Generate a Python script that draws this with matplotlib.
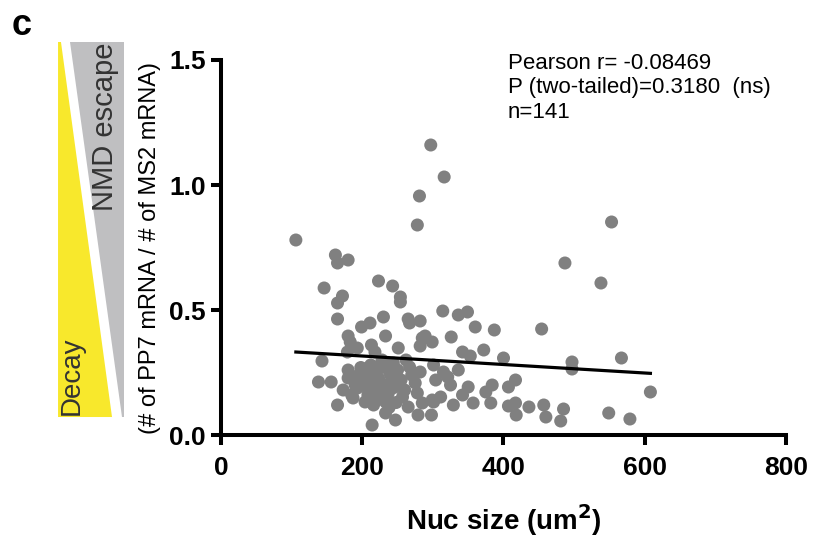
import numpy as np
import matplotlib
matplotlib.use("Agg")
import matplotlib.pyplot as plt
from matplotlib.patches import Polygon

plt.rcParams['font.family'] = ['Liberation Sans', 'DejaVu Sans']

# nuclear size (um^2) and PP7/MS2 ratio
nuc_size = [
    146, 172, 165, 223, 243, 254, 254, 165, 199, 211,
    230, 265, 267, 282, 314, 336, 349, 360, 387, 454,
    180, 183, 233, 285, 289, 299, 282, 326, 251, 213,
    193, 179, 218, 342, 353, 372, 400, 497, 497, 143,
    204, 217, 244, 267, 282, 301, 315, 336, 138, 156,
    180, 201, 214, 223, 243, 275, 304, 321, 325, 350,
    384, 417, 407, 173, 193, 209, 228, 237, 257, 278,
    299, 311, 342, 375, 165, 187, 204, 216, 233, 265,
    285, 301, 329, 357, 382, 407, 417, 436, 457, 485,
    233, 279, 298, 418, 460, 247, 481, 214, 297, 316,
    281, 278, 553, 106, 162, 165, 180, 487, 538, 608,
    549, 579, 567,
    200, 210, 220, 230, 240, 225, 215, 205, 195, 235,
    245, 250, 228, 212, 190, 185, 255, 260, 218, 238,
    248, 208, 198, 232, 222, 270, 262, 180,
]
ratio = [
    0.588, 0.556, 0.528, 0.616, 0.596, 0.552, 0.532, 0.464, 0.432, 0.448,
    0.472, 0.464, 0.448, 0.456, 0.496, 0.480, 0.492, 0.432, 0.420, 0.424,
    0.396, 0.372, 0.396, 0.388, 0.396, 0.372, 0.356, 0.392, 0.348, 0.360,
    0.348, 0.332, 0.332, 0.332, 0.316, 0.340, 0.308, 0.292, 0.264, 0.296,
    0.264, 0.272, 0.288, 0.272, 0.252, 0.280, 0.252, 0.260, 0.212, 0.212,
    0.228, 0.232, 0.248, 0.228, 0.224, 0.208, 0.220, 0.232, 0.200, 0.192,
    0.200, 0.220, 0.192, 0.180, 0.188, 0.180, 0.184, 0.168, 0.152, 0.168,
    0.140, 0.152, 0.160, 0.172, 0.120, 0.148, 0.132, 0.120, 0.132, 0.112,
    0.128, 0.132, 0.120, 0.128, 0.128, 0.116, 0.128, 0.112, 0.120, 0.104,
    0.088, 0.080, 0.080, 0.080, 0.072, 0.060, 0.056, 0.040, 1.160, 1.032,
    0.956, 0.840, 0.852, 0.780, 0.720, 0.688, 0.700, 0.688, 0.608, 0.172,
    0.088, 0.064, 0.308,
    0.25, 0.22, 0.26, 0.20, 0.24, 0.17, 0.19, 0.21, 0.24, 0.15,
    0.19, 0.26, 0.30, 0.28, 0.20, 0.16, 0.22, 0.18, 0.14, 0.11,
    0.13, 0.16, 0.27, 0.27, 0.21, 0.24, 0.30, 0.26,
]

# linear regression line as drawn in the reference
fit_slope = -0.00017
fit_intercept = 0.350

x_ticks = [0, 200, 400, 600, 800]
y_ticks = [0.0, 0.5, 1.0, 1.5]

stats_text = "Pearson r= -0.08469\nP (two-tailed)=0.3180  (ns)\nn=141"

fig = plt.figure(figsize=(8.14, 5.42), dpi=100)
ax = fig.add_axes([0.2715, 0.1974, 0.6941, 0.6919])

ax.scatter(nuc_size, ratio, s=88, color='#808080', edgecolors='none',
           zorder=2, clip_on=False)

fx = np.array([min(nuc_size), max(nuc_size)])
ax.plot(fx, fit_intercept + fit_slope * fx, color='black', lw=2.3, zorder=3)

ax.set_xlim(0, 800)
ax.set_ylim(0, 1.5)
ax.set_xticks(x_ticks)
ax.set_yticks(y_ticks)
ax.set_xticklabels([str(t) for t in x_ticks])
ax.set_yticklabels([f"{t:.1f}" for t in y_ticks])

for side in ['top', 'right']:
    ax.spines[side].set_visible(False)
for side in ['left', 'bottom']:
    ax.spines[side].set_linewidth(2.9)
ax.tick_params(width=2.9, length=7, labelsize=19)
ax.tick_params(axis='x', pad=8)
ax.tick_params(axis='y', pad=4)
for lbl in ax.get_xticklabels() + ax.get_yticklabels():
    lbl.set_fontweight('bold')

ax.set_xlabel("Nuc size (um$^{\\mathbf{2}}$)", fontsize=20, fontweight='bold',
              labelpad=16)
ax.set_ylabel("(# of PP7 mRNA / # of MS2 mRNA)", fontsize=17, labelpad=6)

fig.text(0.624, 0.902, stats_text, fontsize=16, va='top', ha='left',
         linespacing=1.2)

# decay / NMD escape wedges on the left
yellow = Polygon([(0.0713, 0.9225), (0.0749, 0.9225), (0.1376, 0.2306),
                  (0.0713, 0.2306)], closed=True, transform=fig.transFigure,
                 facecolor='#f8e82c', edgecolor='none')
grey = Polygon([(0.0860, 0.9225), (0.1523, 0.9225), (0.1523, 0.2306),
                (0.1499, 0.2306)], closed=True, transform=fig.transFigure,
               facecolor='#bfbfc1', edgecolor='none')
fig.patches.extend([yellow, grey])

fig.text(0.088, 0.234, "Decay", rotation=90, fontsize=20, color='#333333',
         ha='center', va='bottom')
fig.text(0.129, 0.921, "NMD escape", rotation=90, fontsize=21, color='#333333',
         ha='center', va='top')

fig.text(0.027, 0.953, "c", fontsize=26, fontweight='bold', ha='center',
         va='center')

fig.savefig("out.png", dpi=100)
